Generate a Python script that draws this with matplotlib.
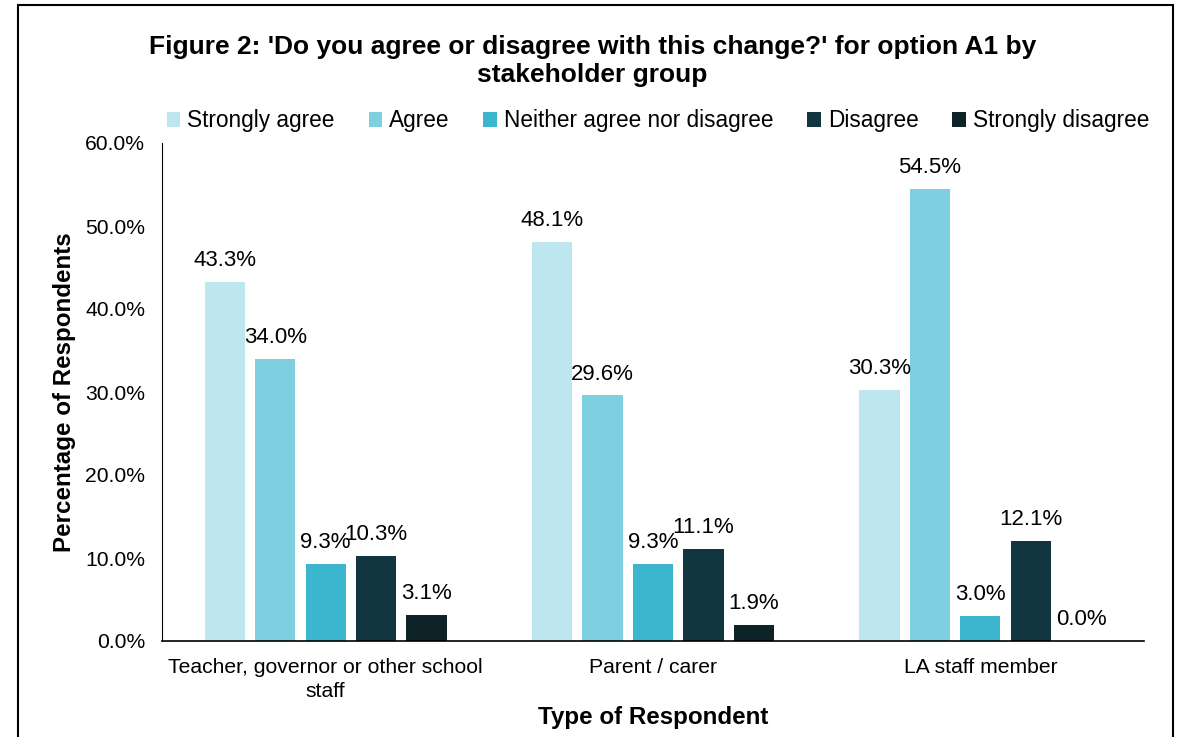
import numpy as np
import matplotlib.pyplot as plt
from matplotlib.patches import Rectangle

plt.rcParams["font.family"] = ["Liberation Sans", "DejaVu Sans"]

groups = ["Teacher, governor or other school\nstaff", "Parent / carer", "LA staff member"]
responses = ["Strongly agree", "Agree", "Neither agree nor disagree",
             "Disagree", "Strongly disagree"]
strongly_agree = [43.3, 48.1, 30.3]
agree = [34.0, 29.6, 54.5]
neither = [9.3, 9.3, 3.0]
disagree = [10.3, 11.1, 12.1]
strongly_disagree = [3.1, 1.9, 0.0]
colours = ["#BEE6EE", "#7ECFE0", "#3BB6CE", "#12363F", "#0D2328"]

series = [strongly_agree, agree, neither, disagree, strongly_disagree]

W, H = 1185, 737
fig = plt.figure(figsize=(W / 100, H / 100), dpi=100)
ax = fig.add_axes([162 / W, 1 - 641 / H, (1144 - 162) / W, (641 - 143) / H])

x = np.arange(len(groups))
width = 0.123
step = 0.154
for i, (vals, col, name) in enumerate(zip(series, colours, responses)):
    pos = x + (i - 2) * step
    bars = ax.bar(pos, vals, width, color=col, label=name)
    for b, v in zip(bars, vals):
        ax.text(b.get_x() + b.get_width() / 2, v + 1.3, f"{v:.1f}%",
                ha="center", va="bottom", fontsize=16)

ax.set_xlim(-0.5, 2.5)
ax.set_ylim(0, 60)
ax.set_yticks(np.arange(0, 61, 10))
ax.set_yticklabels([f"{t:.1f}%" for t in np.arange(0, 61, 10)], fontsize=15.2)
ax.set_xticks(x)
ax.set_xticklabels(groups, fontsize=15.2, linespacing=1.35)
ax.tick_params(axis="y", length=0, pad=12)
ax.tick_params(axis="x", length=0, pad=12)
for s in ["top", "right"]:
    ax.spines[s].set_visible(False)
ax.spines["left"].set_color("#000000")
ax.spines["left"].set_linewidth(0.8)
ax.spines["bottom"].set_linewidth(1.2)

ax.set_ylabel("Percentage of Respondents", fontsize=17.4, fontweight="bold", labelpad=7)
ax.set_xlabel("Type of Respondent", fontsize=17.4, fontweight="bold", labelpad=4)

fig.text(0.5, 1 - 61 / H,
         "Figure 2: 'Do you agree or disagree with this change?' for option A1 by\nstakeholder group",
         ha="center", va="center", fontsize=19, fontweight="bold", linespacing=1.25)

ax.legend(loc="center", bbox_to_anchor=(658 / W, 1 - 121 / H),
          bbox_transform=fig.transFigure, ncol=5, frameon=False,
          fontsize=16.3, handlelength=0.6, handleheight=0.6,
          handletextpad=0.3, columnspacing=1.5)

fig.patches.append(Rectangle((18 / W, -0.01), (1173 - 18) / W, 1 - 5 / H + 0.01,
                             transform=fig.transFigure, fill=False,
                             edgecolor="black", linewidth=1.5))

fig.savefig("out.png", dpi=100)
